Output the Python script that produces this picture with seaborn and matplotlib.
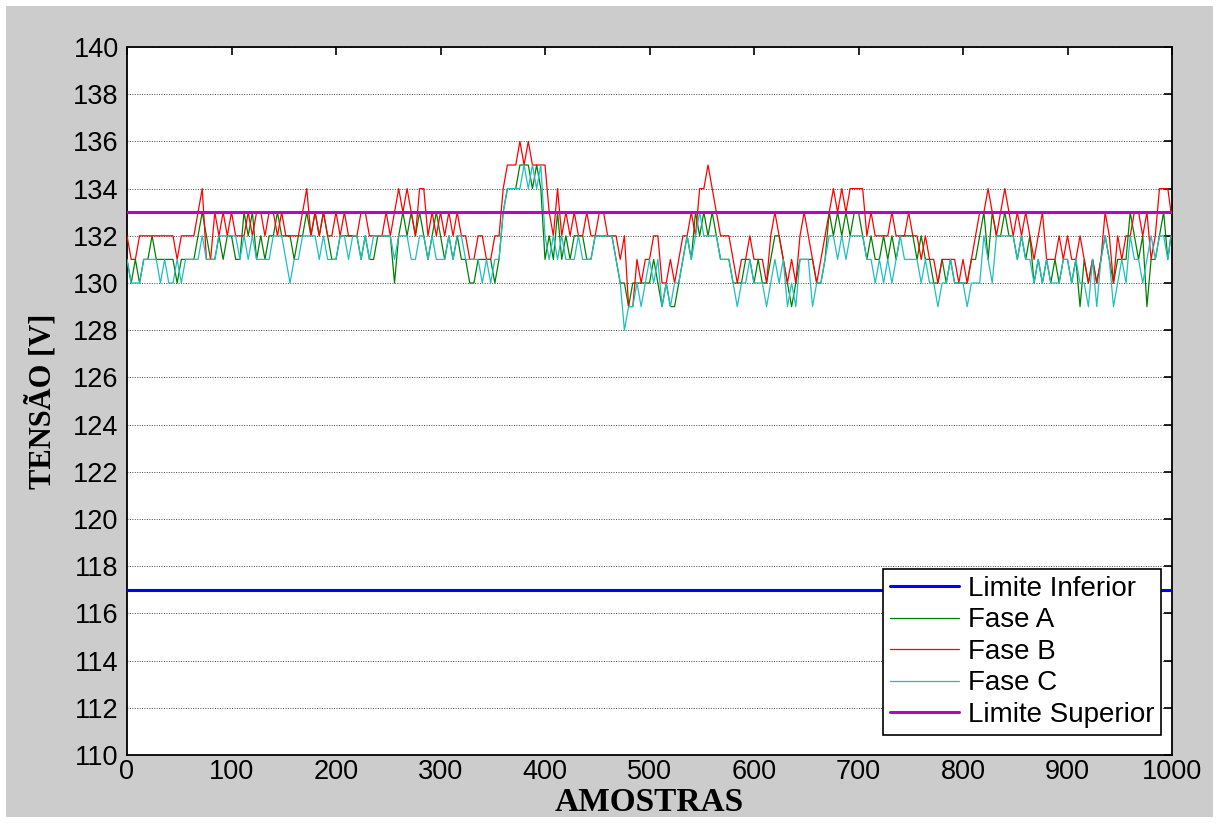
import numpy as np
import pandas as pd
import seaborn as sns
import matplotlib
matplotlib.use("Agg")
import matplotlib.pyplot as plt
from matplotlib.patches import Rectangle

# Amostras registradas a cada 4 leituras (ultima leitura = 999)
amostras = list(range(0, 1000, 4)) + [999]

fase_a = [
    131,130,131,130,131,131,132,131,131,131,131,131,130,131,131,131,131,132,133,132,131,131,132,131,132,
    132,131,131,133,132,133,131,132,131,132,132,133,132,132,132,131,132,132,133,132,133,132,133,132,131,
    131,132,132,132,132,132,131,132,131,131,132,132,132,132,130,132,133,132,133,132,133,132,131,132,133,
    132,131,132,131,132,131,131,130,130,131,131,131,131,130,131,133,134,134,134,135,135,135,134,135,134,
    131,132,131,133,131,132,131,132,132,132,131,131,132,132,132,132,132,131,130,130,129,130,130,130,130,
    130,131,130,129,130,129,129,130,131,132,131,133,132,133,132,133,132,131,131,131,130,130,130,131,131,
    130,131,130,130,131,132,132,131,130,129,130,131,131,131,131,130,130,131,133,132,133,132,133,132,133,
    133,132,131,132,131,131,132,131,132,131,132,132,132,132,131,132,131,131,130,130,131,130,131,130,130,
    130,130,131,131,132,133,131,133,132,132,133,132,132,131,132,131,132,130,131,130,131,130,131,130,131,
    131,130,131,129,131,130,131,130,131,132,131,130,131,131,131,133,132,131,132,129,131,131,132,133,131,132,
]

fase_b = [
    132,131,131,132,132,132,132,132,132,132,132,132,131,132,132,132,132,133,134,131,131,133,132,133,132,
    133,132,132,132,133,132,133,133,132,133,133,132,133,132,132,132,132,133,134,132,133,132,133,132,132,
    133,132,133,132,132,132,133,133,132,132,132,132,133,132,133,134,133,134,133,132,134,134,132,133,132,
    133,132,133,132,133,132,132,131,131,132,132,131,131,132,132,134,135,135,135,136,135,136,135,135,135,
    135,133,132,134,132,133,132,133,132,132,133,132,132,133,133,132,132,132,131,132,129,129,131,130,131,
    131,132,132,130,130,131,130,131,132,132,133,132,134,134,135,134,133,132,132,132,131,130,131,131,132,
    131,131,131,130,132,133,132,131,130,131,130,132,133,132,131,130,131,132,133,134,133,134,133,134,134,
    134,134,132,133,132,132,132,132,133,132,132,132,133,132,132,131,132,131,131,130,131,131,131,131,130,
    131,130,131,132,133,133,134,133,132,133,134,133,132,133,132,133,132,131,132,133,131,131,131,132,131,
    132,131,131,132,131,130,131,130,131,133,132,130,132,131,132,132,133,133,132,133,131,132,134,134,134,133,
]

fase_c = [
    131,130,130,130,131,131,131,131,130,131,130,130,131,130,131,131,131,131,132,131,131,131,132,132,132,
    132,132,131,132,131,132,131,131,131,131,132,132,132,131,130,131,131,132,132,132,132,131,132,131,131,
    131,132,132,131,132,132,131,132,131,132,132,132,132,132,131,132,132,132,131,131,132,132,131,132,131,
    131,131,132,131,132,132,131,131,131,131,130,131,130,131,131,133,134,134,134,134,135,134,135,134,135,
    132,131,132,131,132,131,131,131,132,131,131,131,132,132,132,132,132,131,130,128,129,129,130,129,130,
    131,130,131,129,130,129,130,130,131,132,131,132,133,132,132,132,132,131,131,131,130,129,130,130,131,
    130,130,130,129,130,131,130,131,129,130,129,131,131,131,129,130,130,131,132,132,131,132,131,132,132,
    132,132,131,131,130,131,130,131,130,131,132,131,131,131,131,130,131,130,130,129,130,130,131,130,130,
    130,129,130,130,130,132,131,130,132,132,132,132,132,131,132,131,131,130,131,130,131,130,130,130,131,
    131,130,131,130,130,129,131,129,131,132,131,129,130,131,130,132,131,131,130,131,132,131,132,132,131,132,
]

limite_inferior = 117
limite_superior = 133

y_ticks = list(range(110, 141, 2))
x_ticks = list(range(0, 1001, 100))

df = pd.DataFrame({
    "amostra": amostras,
    "Fase A": fase_a,
    "Fase B": fase_b,
    "Fase C": fase_c,
    "Limite Inferior": [limite_inferior] * len(amostras),
    "Limite Superior": [limite_superior] * len(amostras),
})

sns.set_theme(style="white")
plt.rcParams["font.family"] = ["Liberation Sans", "DejaVu Sans"]
plt.rcParams.update({"text.color": "black", "axes.labelcolor": "black",
                     "xtick.color": "black", "ytick.color": "black"})

fig = plt.figure(figsize=(12.19, 8.23), dpi=100, facecolor="white")
fig.patches.append(Rectangle((6 / 1219, 6 / 823), 1207 / 1219, 811 / 823,
                             transform=fig.transFigure, facecolor="#cccccc",
                             edgecolor="none", zorder=-10))
ax = fig.add_axes([127 / 1219, 1 - 755 / 823, 1045 / 1219, 708 / 823])
ax.set_facecolor("white")

series = [
    ("Limite Inferior", "#0000ff", 2.2),
    ("Fase A", "#008000", 0.9),
    ("Fase B", "#ff0000", 0.9),
    ("Fase C", "#1fbfbf", 0.9),
    ("Limite Superior", "#c000c0", 2.2),
]
for z, (name, color, lw) in enumerate(series):
    sns.lineplot(data=df, x="amostra", y=name, ax=ax, color=color,
                 linewidth=lw, label=name, zorder=3 + z)

ax.set_xlim(0, 1000)
ax.set_ylim(110, 140)
ax.set_xticks(x_ticks)
ax.set_yticks(y_ticks)
ax.tick_params(axis="both", direction="in", length=6, width=1.2, colors="black",
               labelsize=19.5, top=True, right=True)
ax.tick_params(axis="y", pad=6)
ax.tick_params(axis="x", pad=3)
ax.grid(axis="y", linestyle=(0, (1, 1.5)), color="#444444", linewidth=0.7)
ax.grid(axis="x", visible=False)
for sp in ax.spines.values():
    sp.set_color("black")
    sp.set_linewidth(1.3)

ax.set_xlabel("AMOSTRAS", fontfamily="Liberation Serif", fontweight="bold",
              fontsize=24, labelpad=1)
ax.set_ylabel("TENSÃO [V]", fontfamily="Liberation Serif", fontweight="bold",
              fontsize=22, labelpad=11)

leg = ax.legend(loc="lower right", bbox_to_anchor=(1161 / 1219, 1 - 735 / 823),
                bbox_transform=fig.transFigure, fontsize=20, frameon=True,
                fancybox=False, framealpha=1, edgecolor="black",
                handlelength=2.5, handletextpad=0.3, labelspacing=0.2,
                borderpad=0.25, borderaxespad=0)
leg.get_frame().set_linewidth(1.2)
for t in leg.get_texts():
    t.set_color("black")

fig.savefig("out.png", dpi=100, facecolor=fig.get_facecolor())
